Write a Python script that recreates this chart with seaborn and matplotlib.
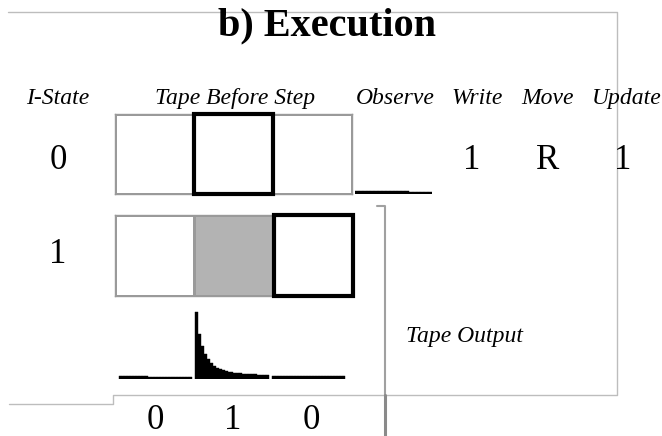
import numpy as np
import pandas as pd
import matplotlib
matplotlib.use('Agg')
import matplotlib.pyplot as plt
from matplotlib.patches import Rectangle
import seaborn as sns

# Execution step of a probabilistic tape machine

title = 'b) Execution'
headers = ['I-State', 'Tape Before Step', 'Observe', 'Write', 'Move', 'Update']
states = [0, 1]
tape_before = [[0, 0, 0],
               [0, 1, 0]]
head_pos = [1, 2]
write_sym = ['1']
move_dir = ['R']
update_state = ['1']
output_labels = ['0', '1', '0']
output_title = 'Tape Output'

# observe distribution (one cell, 20 bins)
observe_probs = [0.045] * 14 + [0.02] * 6

# tape output distribution per cell (25 bins each)
tape_out = [
    [0.04] * 10 + [0.027] * 15,
    [0.89, 0.60, 0.44, 0.33, 0.27, 0.21, 0.17, 0.15, 0.13, 0.12,
     0.11, 0.09, 0.09, 0.08, 0.08, 0.08, 0.07, 0.07, 0.07, 0.07,
     0.07, 0.05, 0.05, 0.05, 0.05],
    [0.04] * 25,
]

sns.set_theme(style='white')
plt.rcParams['font.family'] = ['Liberation Serif', 'DejaVu Serif']
plt.rcParams['text.color'] = 'black'

W, H = 662, 436
fig = plt.figure(figsize=(W / 100, H / 100), dpi=100)
ax = fig.add_axes([0, 0, 1, 1])
ax.set_xlim(0, W)
ax.set_ylim(H, 0)
ax.axis('off')


def fig_box(x0, y0, x1, y1):
    return [x0 / W, 1 - y1 / H, (x1 - x0) / W, (y1 - y0) / H]


def hist_cell(hax, vals, start, width):
    n = len(vals)
    edges = [start + i * width / n for i in range(n + 1)]
    df = pd.DataFrame({'x': [(edges[i] + edges[i + 1]) / 2 for i in range(n)],
                       'w': vals})
    sns.histplot(data=df, x='x', weights='w', bins=edges, ax=hax,
                 color='black', alpha=1, element='bars', linewidth=0.3,
                 edgecolor='black')


# frame lines
frame_col = '#bdbdbd'
ax.plot([8, 617, 617, 113, 113, 9], [12, 12, 395, 395, 404, 404],
        color=frame_col, lw=1)
ax.plot([377, 385, 385], [206, 206, 395], color='#a0a0a0', lw=1.5)
ax.plot([385, 385], [395, 436], color='#8a8a8a', lw=2.2)

# text
ax.text(327, 26, title, ha='center', va='center', fontsize=29,
        fontweight='bold', color='black')
header_x = [58, 235, 395, 477, 548, 627]
for hx, h in zip(header_x, headers):
    ax.text(hx, 98, h, ha='center', va='center', fontsize=17,
            style='italic', color='black')

row_y = [160, 254]
for ry, s in zip(row_y, states):
    ax.text(58, ry, str(s), ha='center', va='center', fontsize=25,
            color='black')
ax.text(472, row_y[0], write_sym[0], ha='center', va='center', fontsize=25,
        color='black')
ax.text(548, row_y[0], move_dir[0], ha='center', va='center', fontsize=25,
        color='black')
ax.text(623, row_y[0], update_state[0], ha='center', va='center',
        fontsize=25, color='black')

ax.text(465, 336, output_title, ha='center', va='center', fontsize=17,
        style='italic', color='black')
for i, lab in enumerate(output_labels):
    ax.text(155 + i * 78, 420, lab, ha='center', va='center', fontsize=25,
            color='black')

# tape rows as heatmaps
tape_boxes = [(115, 114, 352, 194), (115, 215, 353, 296)]
for r, (row, box) in enumerate(zip(tape_before, tape_boxes)):
    tax = fig.add_axes(fig_box(*box))
    df = pd.DataFrame([row])
    sns.heatmap(df, ax=tax, cmap=['white', '#b3b3b3'], vmin=0, vmax=1,
                cbar=False, linewidths=1, linecolor='#9a9a9a',
                xticklabels=False, yticklabels=False)
    for s in tax.spines.values():
        s.set_visible(True)
        s.set_color('#9a9a9a')
        s.set_linewidth(1)
    tax.add_patch(Rectangle((head_pos[r], 0), 1, 1, fill=False,
                            ec='black', lw=3, clip_on=False, zorder=5))

# observe histogram
oax = fig.add_axes(fig_box(355, 119, 432, 194))
hist_cell(oax, observe_probs, 0, 1)
oax.set_xlim(0, 1)
oax.set_ylim(0, 1)
oax.axis('off')

# tape output histogram
hax = fig.add_axes(fig_box(117, 304, 347, 379))
for c, vals in enumerate(tape_out):
    hist_cell(hax, vals, c + 0.02, 0.96)
hax.set_xlim(0, 3)
hax.set_ylim(0, 1)
hax.axis('off')

fig.savefig('out.png', dpi=100)
